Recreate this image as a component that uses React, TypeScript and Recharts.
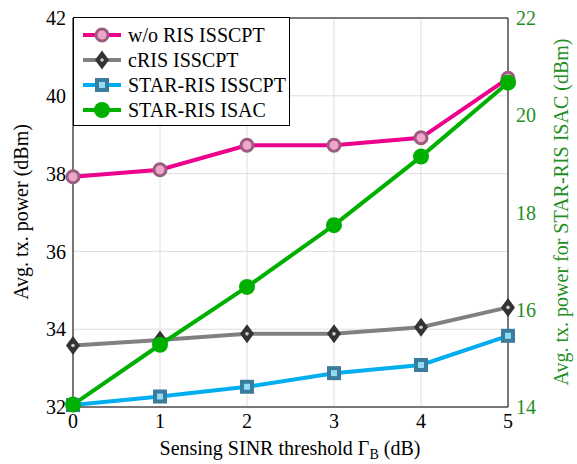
import React from 'react';
import { LineChart, Line, XAxis, YAxis, CartesianGrid, Legend, ReferenceLine } from 'recharts';

const xValues = [0, 1, 2, 3, 4, 5];
const woRis = [37.92, 38.1, 38.73, 38.73, 38.92, 40.45];
const cRis = [33.58, 33.72, 33.88, 33.88, 34.05, 34.56];
const starIsscpt = [32.05, 32.27, 32.52, 32.87, 33.08, 33.83];
const starIsac = [14.05, 15.28, 16.47, 17.74, 19.15, 20.67];

const xTicks = [0, 1, 2, 3, 4, 5];
const leftTicks = [32, 34, 36, 38, 40, 42];
const rightTicks = [14, 16, 18, 20, 22];

const seriesNames = ['w/o RIS ISSCPT', 'cRIS ISSCPT', 'STAR-RIS ISSCPT', 'STAR-RIS ISAC'];

const data = xValues.map((x, i) => ({
  x,
  woRis: woRis[i],
  cRis: cRis[i],
  starIsscpt: starIsscpt[i],
  starIsac: starIsac[i],
}));

const FONT = 'Liberation Serif';
const FS = 20;
const GREEN_TXT = '#1f8f1f';

const PINK = '#ec008c';
const GRAY = '#808080';
const BLUE = '#00aeef';
const GREEN = '#00b000';

const txtStyle = { fontFamily: FONT, fontSize: FS };

const CircleMark = ({ cx, cy }: any) => (
  <circle cx={cx} cy={cy} r={6} fill="#f0a6ca" stroke="#9c5c80" strokeWidth={3} />
);
const DiamondMark = ({ cx, cy }: any) => (
  <g>
    <path d={`M${cx},${cy - 9.5} L${cx + 7},${cy} L${cx},${cy + 9.5} L${cx - 7},${cy} Z`} fill="#333" />
    <circle cx={cx} cy={cy} r={1.8} fill="#ccc" />
  </g>
);
const SquareMark = ({ cx, cy }: any) => (
  <g>
    <rect x={cx - 7} y={cy - 7} width={14} height={14} fill="#3b7b9c" />
    <rect x={cx - 3} y={cy - 3} width={6} height={6} fill="#8fdcf5" />
  </g>
);
const GreenMark = ({ cx, cy }: any) => <circle cx={cx} cy={cy} r={8} fill={GREEN} />;

const legendItems = [
  { name: seriesNames[0], color: PINK, Mark: CircleMark },
  { name: seriesNames[1], color: GRAY, Mark: DiamondMark },
  { name: seriesNames[2], color: BLUE, Mark: SquareMark },
  { name: seriesNames[3], color: GREEN, Mark: GreenMark },
];

const LegendBox = () => (
  <div
    style={{
      width: 217,
      height: 109,
      border: '1px solid #000',
      background: '#fff',
      boxSizing: 'border-box',
      position: 'relative',
    }}
  >
    <svg width={215} height={107} style={{ position: 'absolute', left: 0, top: 0 }}>
      {legendItems.map((it, i) => {
        const cy = 17 + i * 25;
        const M = it.Mark;
        return (
          <g key={it.name}>
            <line x1={9} x2={47} y1={cy} y2={cy} stroke={it.color} strokeWidth={4} />
            <M cx={28} cy={cy} />
            <text x={54} y={cy + 7} style={txtStyle} fill="#000">
              {it.name}
            </text>
          </g>
        );
      })}
    </svg>
  </div>
);

const XLabel = () => (
  <text x={290} y={455} textAnchor="middle" style={txtStyle} fill="#000">
    Sensing SINR threshold Γ
    <tspan style={{ fontSize: 14 }} dy={4}>B</tspan>
    <tspan dy={-4}> (dB)</tspan>
  </text>
);

const LeftLabel = () => (
  <text x={28} y={212} transform="rotate(-90 28 212)" textAnchor="middle" style={txtStyle} fill="#000">
    Avg.  tx.  power (dBm)
  </text>
);

const RightLabel = () => (
  <text x={568} y={212} transform="rotate(-90 568 212)" textAnchor="middle" style={txtStyle} fill={GREEN_TXT}>
    Avg.  tx.  power for STAR-RIS ISAC (dBm)
  </text>
);

export default function App() {
  return (
    <div style={{ position: 'absolute', left: 0, top: 0, width: 577, height: 464, background: '#fff', fontFamily: FONT }}>
      <LineChart width={577} height={464} data={data} margin={{ top: 18, right: 0, bottom: 0, left: 0 }}>
        <CartesianGrid stroke="#dedede" strokeWidth={1} yAxisId="left" />
        <XAxis
          dataKey="x"
          type="number"
          domain={[0, 5]}
          ticks={xTicks}
          height={57}
          axisLine={{ stroke: '#000', strokeWidth: 1 }}
          tickLine={false}
          tickMargin={1}
          tick={{ fontFamily: FONT, fontSize: FS, fill: '#000' }}
          label={<XLabel />}
        />
        <YAxis
          yAxisId="left"
          orientation="left"
          domain={[32, 42]}
          ticks={leftTicks}
          width={73}
          axisLine={{ stroke: '#000', strokeWidth: 1 }}
          tickLine={false}
          tickMargin={1}
          tick={{ fontFamily: FONT, fontSize: FS, fill: '#000' }}
          label={<LeftLabel />}
        />
        <YAxis
          yAxisId="right"
          orientation="right"
          domain={[14, 22]}
          ticks={rightTicks}
          width={69}
          axisLine={{ stroke: '#000', strokeWidth: 1 }}
          tickLine={false}
          tickMargin={2}
          tick={{ fontFamily: FONT, fontSize: FS, fill: GREEN_TXT }}
          label={<RightLabel />}
        />
        <ReferenceLine yAxisId="left" y={42} stroke="#000" strokeWidth={1} />
        <Line yAxisId="left" dataKey="woRis" name={seriesNames[0]} stroke={PINK} strokeWidth={4} dot={<CircleMark />} isAnimationActive={false} />
        <Line yAxisId="left" dataKey="cRis" name={seriesNames[1]} stroke={GRAY} strokeWidth={4} dot={<DiamondMark />} isAnimationActive={false} />
        <Line yAxisId="left" dataKey="starIsscpt" name={seriesNames[2]} stroke={BLUE} strokeWidth={4} dot={<SquareMark />} isAnimationActive={false} />
        <Line yAxisId="right" dataKey="starIsac" name={seriesNames[3]} stroke={GREEN} strokeWidth={4} dot={<GreenMark />} isAnimationActive={false} />
        <Legend
          layout="horizontal"
          verticalAlign="middle"
          align="center"
          content={<LegendBox />}
          wrapperStyle={{ position: 'absolute', left: 73, top: 17, width: 217, height: 109 }}
        />
      </LineChart>
    </div>
  );
}
